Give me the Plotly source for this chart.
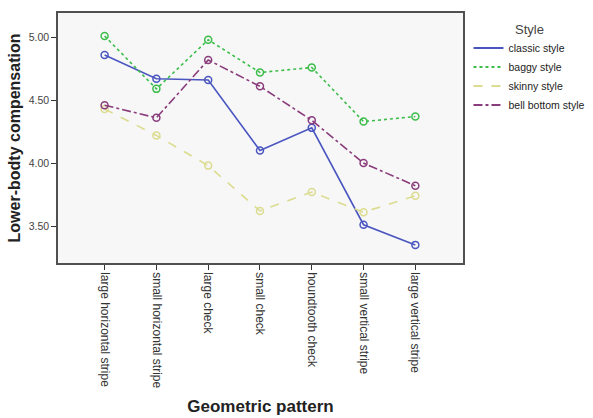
import plotly.graph_objects as go

categories = ["large horizontal stripe", "small horizontal stripe", "large check", "small check",
              "houndtooth check", "small vertical stripe", "large vertical stripe"]
classic = [4.86, 4.67, 4.66, 4.10, 4.28, 3.51, 3.35]
baggy = [5.01, 4.59, 4.98, 4.72, 4.76, 4.33, 4.37]
skinny = [4.43, 4.22, 3.98, 3.62, 3.77, 3.61, 3.74]
bell = [4.46, 4.36, 4.82, 4.61, 4.34, 4.00, 3.82]
series_names = ["classic style", "baggy style", "skinny style", "bell bottom style"]
y_ticks = [3.5, 4.0, 4.5, 5.0]

colors = ["#4a56c0", "#3cbd4a", "#dcdc90", "#8a3c7c"]
dashes = ["solid", "dot", "dash", "dashdot"]

x_idx = list(range(len(categories)))
fig = go.Figure()
for name, vals, c, d in zip(series_names, [classic, baggy, skinny, bell], colors, dashes):
    fig.add_trace(go.Scatter(
        x=x_idx, y=vals, name=name, mode="lines+markers", showlegend=False,
        line=dict(color=c, width=1.6, dash=d),
        marker=dict(symbol="circle-open", size=7, color=c, line=dict(width=1.5, color=c)),
    ))
# legend entries: lines only
for name, c, d in zip(series_names, colors, dashes):
    fig.add_trace(go.Scatter(
        x=[None], y=[None], name=name, mode="lines", showlegend=True,
        line=dict(color=c, width=2, dash=d),
    ))

fig.update_layout(
    width=593, height=418,
    margin=dict(l=58, r=130, t=13, b=155, autoexpand=False),
    paper_bgcolor="white", plot_bgcolor="#f7f7f7",
    font=dict(family="Liberation Sans, Arial, sans-serif", color="#333333", size=9),
    showlegend=True,
    legend=dict(
        title=dict(text="Style", font=dict(size=13, color="#444444"), side="top center"),
        xref="container", yref="container",
        x=0.79, y=0.96, xanchor="left", yanchor="top",
        font=dict(size=10.5, color="#222222"),
        itemwidth=30, tracegroupgap=0,
        bgcolor="rgba(0,0,0,0)",
    ),
    xaxis=dict(
        range=[-0.9, 6.92], tickmode="array", tickvals=x_idx, ticktext=categories,
        tickangle=90, ticks="outside", ticklen=5, tickcolor="#333333", automargin=False,
        showgrid=False, zeroline=False, showline=True, linecolor="#505050", linewidth=1.5,
        mirror=True, tickfont=dict(size=12, color="#333333"),
        title=dict(text="<b>Geometric pattern</b>", font=dict(size=17, color="#222222"), standoff=13),
    ),
    yaxis=dict(
        range=[3.206, 5.193], tickmode="array", tickvals=y_ticks,
        ticktext=["%.2f" % v for v in y_ticks], automargin=False,
        ticks="outside", ticklen=5, tickcolor="#333333",
        showgrid=False, zeroline=False, showline=True, linecolor="#505050", linewidth=1.5,
        mirror=True, tickfont=dict(size=10.5, color="#444444"),
        title=dict(text="<b>Lower-bodty compensation</b>", font=dict(size=16, color="#222222"), standoff=4),
    ),
)

fig.write_html("out.html")
